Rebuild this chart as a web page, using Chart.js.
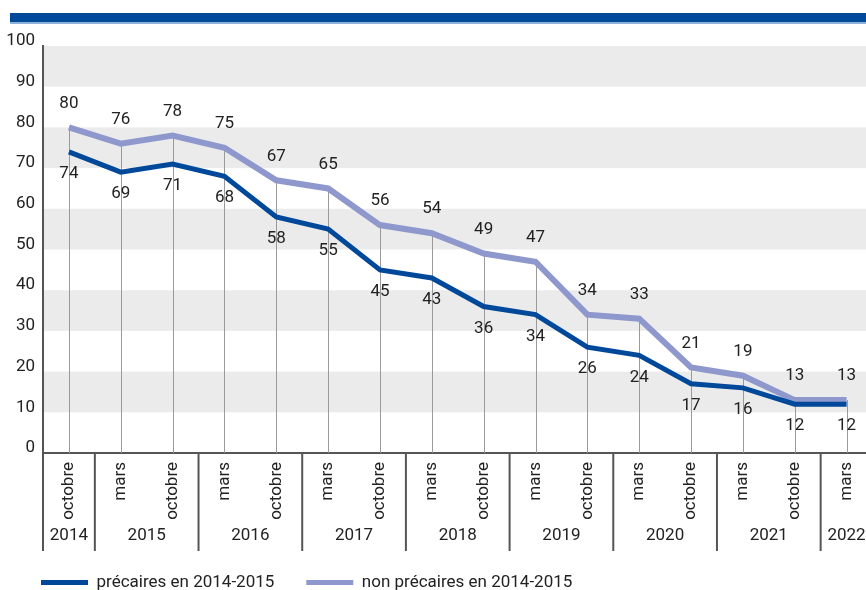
<!DOCTYPE html>
<html>
<head>
<meta charset="utf-8">
<script src="https://cdn.jsdelivr.net/npm/chart.js@4"></script>
<style>
  body { margin: 0; overflow: hidden; background: #fff; width: 866px; height: 590px; position: relative; }
  #wrap { position: absolute; left: 0; top: 0; width: 876px; height: 590px; }
  #bar { position: absolute; left: 10px; top: 13px; width: 856px; height: 9px; background: #004a99; border-bottom: 2px solid #8fb1da; }
</style>
</head>
<body>
<div id="wrap"><canvas id="c"></canvas></div>
<div id="bar"></div>
<script>
const months = ["octobre","mars","octobre","mars","octobre","mars","octobre","mars","octobre","mars","octobre","mars","octobre","mars","octobre","mars"];
const years = ["2014","2015","2015","2016","2016","2017","2017","2018","2018","2019","2019","2020","2020","2021","2021","2022"];
const precaires = [74,69,71,68,58,55,45,43,36,34,26,24,17,16,12,12];
const nonPrecaires = [80,76,78,75,67,65,56,54,49,47,34,33,21,19,13,13];
const yTicks = [0,10,20,30,40,50,60,70,80,90,100];

const FONT = "Roboto, 'DejaVu Sans Condensed', sans-serif";
const DARK = "#00489a";
const LIGHT = "#8e98cc";
const TXT = "#222";

// grey bands, drop lines, value labels and the year row
const decor = {
  id: "decor",
  afterLayout(chart) {
    // push the legend a little to the right, under the axis
    chart.legend.left = 9;
  },
  beforeDraw(chart) {
    const {ctx, chartArea: a, scales: {y}} = chart;
    ctx.save();
    ctx.fillStyle = "#ebebeb";
    for (let v = 10; v < 100; v += 20) {
      const t = y.getPixelForValue(v + 10), b = y.getPixelForValue(v);
      ctx.fillRect(a.left + 1, t, a.right - a.left, b - t);
    }
    ctx.restore();
  },
  beforeDatasetsDraw(chart) {
    const {ctx, chartArea: a} = chart;
    const p0 = chart.getDatasetMeta(0).data, p1 = chart.getDatasetMeta(1).data;
    ctx.save();
    ctx.strokeStyle = "#9a9a9a";
    ctx.lineWidth = 1;
    p0.forEach((p, i) => {
      const top = Math.min(p.y, p1[i].y);
      const x = Math.round(p.x) + 0.5;
      ctx.beginPath();
      ctx.moveTo(x, top);
      ctx.lineTo(x, a.bottom);
      ctx.stroke();
    });
    ctx.restore();
  },
  afterDatasetsDraw(chart) {
    const {ctx} = chart;
    ctx.save();
    ctx.font = "17px " + FONT;
    ctx.fillStyle = TXT;
    ctx.textAlign = "center";
    ctx.textBaseline = "middle";
    chart.getDatasetMeta(1).data.forEach((p, i) => ctx.fillText(nonPrecaires[i], p.x, p.y - 24));
    chart.getDatasetMeta(0).data.forEach((p, i) => ctx.fillText(precaires[i], p.x, p.y + 22));
    ctx.restore();
  },
  afterDraw(chart) {
    const {ctx, chartArea: a, scales: {x}} = chart;
    const half = (a.right - a.left) / months.length / 2;
    ctx.save();
    ctx.strokeStyle = "#555";
    ctx.lineWidth = 2;
    ctx.font = "17px " + FONT;
    ctx.fillStyle = TXT;
    ctx.textAlign = "center";
    ctx.textBaseline = "middle";
    let start = 0;
    for (let i = 1; i <= years.length; i++) {
      if (i === years.length || years[i] !== years[start]) {
        const left = x.getPixelForValue(start) - half;
        ctx.beginPath();
        ctx.moveTo(left, a.bottom);
        ctx.lineTo(left, a.bottom + 98);
        ctx.stroke();
        const cx = (x.getPixelForValue(start) + x.getPixelForValue(i - 1)) / 2;
        ctx.fillText(years[start], cx, a.bottom + 83);
        start = i;
      }
    }
    ctx.restore();
  }
};

new Chart("c", {
  type: "line",
  data: {
    labels: months,
    datasets: [
      { label: "précaires en 2014-2015", data: precaires, borderColor: DARK, backgroundColor: DARK, borderWidth: 5, pointRadius: 0, tension: 0 },
      { label: "non précaires en 2014-2015", data: nonPrecaires, borderColor: LIGHT, backgroundColor: LIGHT, borderWidth: 6, pointRadius: 0, tension: 0 }
    ]
  },
  options: {
    responsive: true,
    maintainAspectRatio: false,
    animation: false,
    layout: { padding: { top: 46, left: 0, right: 1, bottom: -11 } },
    plugins: {
      tooltip: { enabled: false },
      legend: {
        position: "bottom",
        align: "start",
        labels: {
          color: TXT,
          font: { family: FONT, size: 17 },
          boxWidth: 47,
          boxHeight: 5,
          padding: 32,
          generateLabels: chart => chart.data.datasets.map((d, i) => ({
            text: d.label, fillStyle: d.borderColor, strokeStyle: d.borderColor,
            lineWidth: 0, hidden: false, datasetIndex: i, fontColor: TXT
          }))
        }
      }
    },
    scales: {
      x: {
        offset: true,
        grid: { display: false, drawTicks: false },
        border: { display: true, color: "#555", width: 2 },
        ticks: { color: TXT, font: { family: FONT, size: 17 }, minRotation: 90, maxRotation: 90, padding: 9, autoSkip: false },
        afterFit(s) { s.height = 89; }
      },
      y: {
        min: 0,
        max: 100,
        grid: { display: false, drawTicks: false },
        border: { display: true, color: "#555", width: 2 },
        afterBuildTicks(s) { s.ticks = yTicks.map(v => ({ value: v })); },
        ticks: { color: TXT, font: { family: FONT, size: 17 }, padding: 8, labelOffset: -5 },
        afterFit(s) { s.width = 43; }
      }
    }
  },
  plugins: [decor]
});
</script>
</body>
</html>
